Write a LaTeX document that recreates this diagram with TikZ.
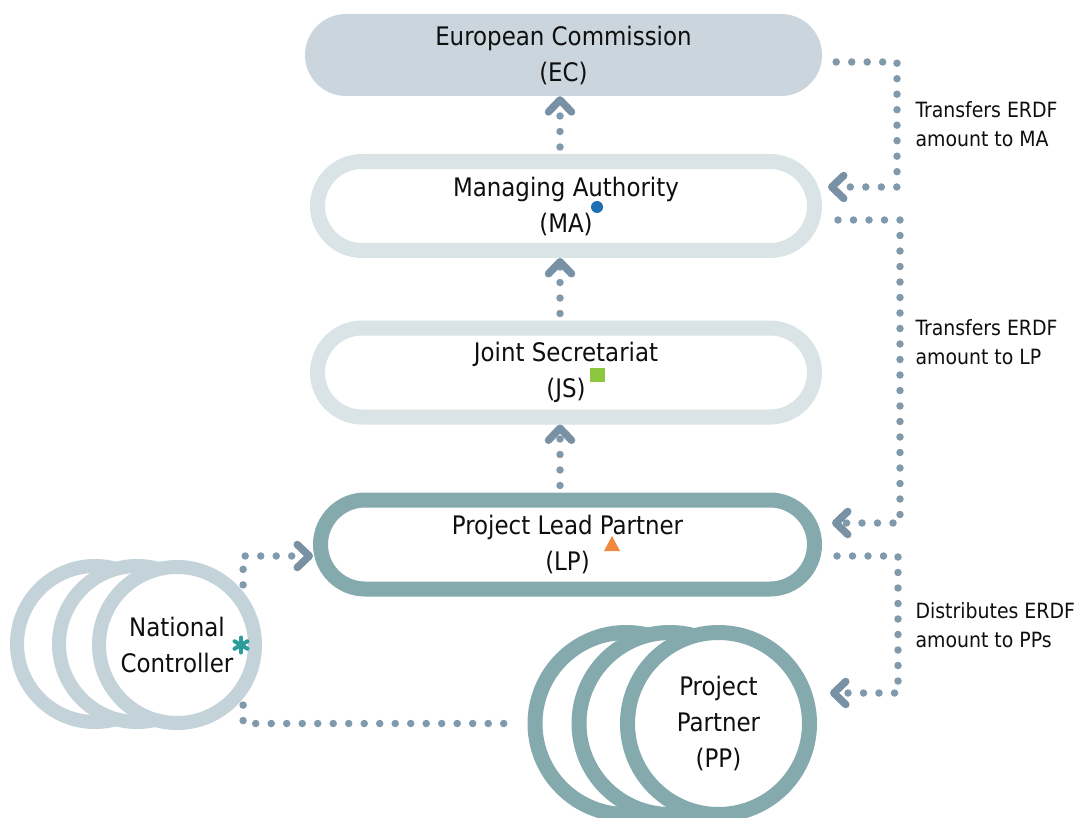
\documentclass[tikz,border=0pt]{standalone}
\usepackage{fontspec}
\setmainfont{DejaVu Sans Condensed}
\usetikzlibrary{arrows.meta}
\definecolor{ecfill}{RGB}{202,213,221}
\definecolor{pillgray}{RGB}{218,228,231}
\definecolor{tealgray}{RGB}{132,170,174}
\definecolor{ncgray}{RGB}{195,211,217}
\definecolor{dotgray}{RGB}{128,153,171}
\definecolor{chevgray}{RGB}{121,145,164}
\definecolor{txt}{RGB}{15,15,15}
\definecolor{mablue}{RGB}{31,111,181}
\definecolor{jsgreen}{RGB}{141,198,63}
\definecolor{lporange}{RGB}{240,136,62}
\definecolor{ncteal}{RGB}{42,157,154}
\newcommand{\boxfont}{\fontsize{25.5}{36}\selectfont}
\newcommand{\notefont}{\fontsize{21}{29}\selectfont}

\begin{document}
\begin{tikzpicture}[x=1pt, y=-1pt, text=txt,
    chev/.tip={Straight Barb[length=12pt, width=23pt, line width=7.5pt, round, color=chevgray]},
    pill/.style={draw=pillgray, line width=15pt, fill=white, rounded corners=44.5pt,
      minimum width=497pt, minimum height=89pt, align=center, font=\boxfont},
    ring/.style={circle, line width=14pt, draw=ncgray, fill=white,
      minimum size=156pt, align=center, font=\boxfont},
    bigring/.style={circle, line width=15pt, draw=tealgray, fill=white,
      minimum size=182pt, align=center, font=\boxfont},
    dotline/.style={draw=dotgray, line width=7.5pt, line cap=round,
      dash pattern=on 0pt off 15.5pt},
    note/.style={anchor=west, align=left, font=\notefont}]
  \useasboundingbox (0, 0) rectangle (1086, 818);

  \node[fill=ecfill, rounded corners=41pt, minimum width=517pt, minimum height=82pt,
    align=center, font=\boxfont] (ec) at (563.5, 55) {European Commission\\(EC)};
  \node[pill] (ma) at (566, 206) {Managing Authority\\(MA)};
  \node[pill] (js) at (566, 372.5) {Joint Secretariat\\(JS)};
  \node[pill, draw=tealgray, minimum width=494pt] (lp) at (567.5, 544.5) {Project Lead Partner\\(LP)};

  \node[ring] (nc1) at (95, 644) {};
  \node[ring] (nc2) at (137, 644) {};
  \node[ring] (nc) at (177, 645) {National\\Controller};

  \node[bigring] (pp1) at (626, 723.5) {};
  \node[bigring] (pp2) at (670, 723.5) {};
  \node[bigring] (pp) at (718.5, 723.5) {Project\\Partner\\(PP)};

  % markers
  \fill[mablue] (597, 207) circle (6);
  \fill[jsgreen] (590, 368) rectangle (605, 382);
  \fill[lporange] (604, 551) -- (620, 551) -- (612, 536) -- cycle;
  \foreach \a in {90, 30, 150}
    \draw[ncteal, line width=4pt, line cap=round]
      (241, 645) ++(\a:7.5) -- ++(\a+180:15);

  \coordinate (ax) at (560, 0);
  \coordinate (t1) at (897, 187);
  \coordinate (t2) at (900, 523);
  \coordinate (t3) at (898, 693);

  \draw[dotline, -{chev}, shorten <=7pt] (ma.north -| ax) -- (ec.south -| ax);
  \draw[dotline, -{chev}, shorten <=7pt] (js.north -| ax) -- (ma.south -| ax);
  \draw[dotline, -{chev}, shorten <=7pt] (lp.north -| ax) -- (js.south -| ax);

  \draw[dotline, -{chev}, shorten <=14pt] ([yshift=-7pt]ec.east) -| (t1) -- ([xshift=6pt]ma.east |- t1);
  \draw[dotline, -{chev}, shorten <=16pt] ([yshift=-14pt]ma.east) -| (t2) -- ([xshift=10pt]lp.east |- t2);
  \draw[dotline, -{chev}, shorten <=15pt] ([yshift=-11.5pt]lp.east) -| (t3) -- ([xshift=13pt]pp.east |- t3);

  \draw[dotline, -{chev}] ([xshift=6pt]nc.north east) |- ([yshift=-11.5pt]lp.west);
  \draw[dotline, shorten >=18pt] ([xshift=6pt]nc.south east) |- (pp1.west);

  \node[note] (n1) at (912, 124) {Transfers ERDF\\amount to MA};
  \node[note] (n2) at (912, 342) {Transfers ERDF\\amount to LP};
  \node[note] (n3) at (912, 625.5) {Distributes ERDF\\amount to PPs};
\end{tikzpicture}
\end{document}
